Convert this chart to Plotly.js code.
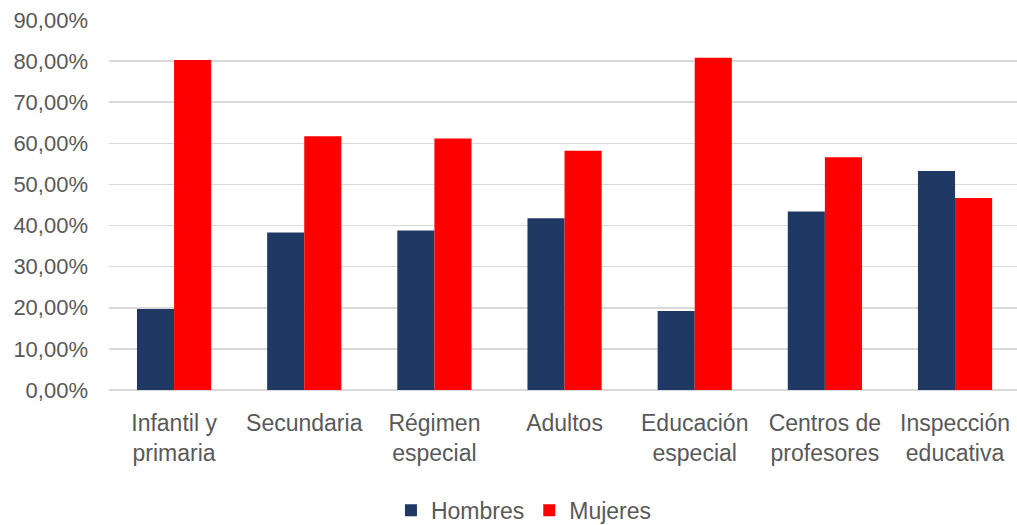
<!DOCTYPE html>
<html>
<head>
<meta charset="utf-8">
<script src="https://cdn.plot.ly/plotly-3.0.1.min.js"></script>
<style>html,body{margin:0;padding:0;background:#fff;}#chart{width:1017px;height:525px;}</style>
</head>
<body>
<div id="chart"></div>
<script>
const categories = ["Infantil y<br>primaria", "Secundaria", "Régimen<br>especial", "Adultos", "Educación<br>especial", "Centros de<br>profesores", "Inspección<br>educativa"];
const hombres = [19.7, 38.3, 38.8, 41.8, 19.2, 43.4, 53.3];
const mujeres = [80.3, 61.7, 61.2, 58.2, 80.8, 56.6, 46.7];
const seriesNames = ["Hombres", "Mujeres"];

const font = "Liberation Sans, Arial, sans-serif";
const data = [
  {type: "bar", name: seriesNames[0], x: categories, y: hombres, marker: {color: "#1f3864"}},
  {type: "bar", name: seriesNames[1], x: categories, y: mujeres, marker: {color: "#ff0000"}}
];
const layout = {
  width: 1017, height: 525,
  margin: {l: 109, r: 0, t: 20, b: 135, autoexpand: false},
  paper_bgcolor: "#fff", plot_bgcolor: "#fff",
  barmode: "group", bargap: 0.43, bargroupgap: 0,
  separators: ",.",
  font: {family: font, size: 22, color: "#595959"},
  xaxis: {range: [-0.5, 6.476], showgrid: false, showline: false, ticks: "", ticklabelstandoff: 17,
          tickfont: {size: 23, color: "#595959"}, automargin: false},
  yaxis: {range: [0, 90], dtick: 10, tickformat: ".2f", ticksuffix: "%", gridcolor: "#d9d9d9", gridwidth: 1.5,
          zeroline: true, zerolinecolor: "#d9d9d9", zerolinewidth: 1.5, showline: false, ticks: "",
          ticklabelstandoff: 20, tickfont: {size: 22, color: "#595959"}, automargin: false},
  legend: {orientation: "h", x: 0.457, xanchor: "center", yref: "container", y: 0.028, yanchor: "middle",
           font: {size: 23, color: "#595959"}},
  showlegend: true
};
Plotly.newPlot("chart", data, layout, {displayModeBar: false, staticPlot: true});
</script>
</body>
</html>
